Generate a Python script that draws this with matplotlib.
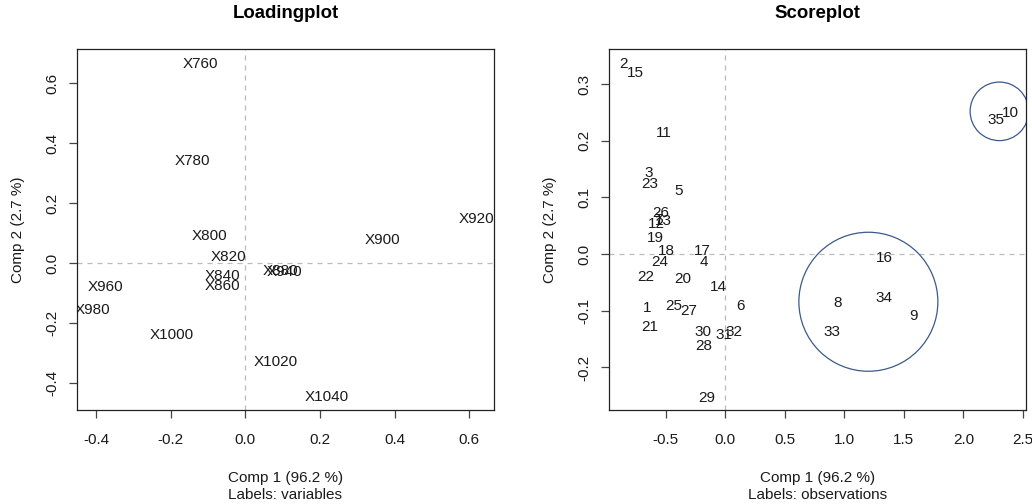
import numpy as np
import matplotlib
matplotlib.use("Agg")
import matplotlib.pyplot as plt
from matplotlib.patches import Ellipse

plt.rcParams["font.family"] = ["Liberation Sans", "DejaVu Sans"]
plt.rcParams["axes.unicode_minus"] = False

# loadings of the first two components
var_names = ["X760", "X780", "X800", "X820", "X840", "X860", "X880", "X900",
             "X920", "X940", "X960", "X980", "X1000", "X1020", "X1040"]
load_c1 = [-0.121, -0.141, -0.095, -0.045, -0.062, -0.062, 0.093, 0.368,
           0.620, 0.106, -0.376, -0.410, -0.197, 0.082, 0.218]
load_c2 = [0.663, 0.341, 0.091, 0.020, -0.042, -0.076, -0.025, 0.078,
           0.147, -0.028, -0.079, -0.156, -0.239, -0.328, -0.447]

# scores of the observations
obs_ids = [str(i) for i in range(1, 36)]
score_c1 = [-0.660, -0.857, -0.647, -0.179, -0.395, 0.124, -0.565, 0.945,
            1.580, 2.398, -0.513, -0.580, -0.521, -0.056, -0.753, 1.334,
            -0.193, -0.492, -0.585, -0.358, -0.639, -0.672, -0.633, -0.555,
            -0.431, -0.543, -0.311, -0.185, -0.156, -0.190, -0.011, 0.071,
            0.894, 1.336, 2.275]
score_c2 = [-0.095, 0.336, 0.144, -0.014, 0.112, -0.091, 0.060, -0.087,
            -0.110, 0.249, 0.213, 0.053, 0.058, -0.058, 0.319, -0.007,
            0.006, 0.005, 0.028, -0.043, -0.128, -0.041, 0.124, -0.014,
            -0.091, 0.072, -0.101, -0.162, -0.253, -0.137, -0.142, -0.138,
            -0.138, -0.077, 0.236]

# highlighted groups: centre (comp1, comp2) and radius in comp1 units
circ_x = [1.202, 2.303]
circ_y = [-0.084, 0.252]
circ_r = [0.584, 0.246]

W, H = 1032, 504
fig = plt.figure(figsize=(W / 100, H / 100), dpi=100)
ax1 = fig.add_axes([77 / W, 1 - 410 / H, 417 / W, 361 / H])
ax2 = fig.add_axes([609.3 / W, 1 - 410 / H, 416.4 / W, 361 / H])

fs = 11
dark = "#1a1a1a"


def frame(ax, xlim, ylim, xt, yt, title, sub):
    ax.set_xlim(*xlim)
    ax.set_ylim(*ylim)
    ax.set_xticks(xt)
    ax.set_yticks(yt)
    ax.set_xticklabels(["%.1f" % v for v in xt], fontsize=fs, color=dark)
    ax.set_yticklabels(["%.1f" % v for v in yt], fontsize=fs, color=dark,
                       rotation=90, va="center")
    ax.tick_params(axis="x", direction="out", length=6, width=0.9, pad=10.5, colors="#444444", labelcolor=dark)
    ax.tick_params(axis="y", direction="out", length=6, width=0.9, pad=7, colors="#444444", labelcolor=dark)
    for s in ax.spines.values():
        s.set_linewidth(0.9)
        s.set_color("#222222")
    ax.axhline(0, color="#bbbbbb", lw=0.9, ls=(0, (4, 4)), zorder=0)
    ax.axvline(0, color="#bbbbbb", lw=0.9, ls=(0, (4, 4)), zorder=0)
    ax.text(0.5, (410 - 18.3) / 361, title, transform=ax.transAxes, ha="center",
            va="baseline", fontsize=13.4, fontweight="bold", color="black")
    ax.text(0.5, (410 - 482) / 361, "Comp 1 (96.2 %)", transform=ax.transAxes,
            ha="center", va="baseline", fontsize=fs, color=dark)
    ax.text(0.5, (410 - 499) / 361, sub, transform=ax.transAxes,
            ha="center", va="baseline", fontsize=fs, color=dark)
    ax.set_ylabel("Comp 2 (2.7 %)", fontsize=fs, color=dark)
    ax.yaxis.set_label_coords(-52.5 / 417, 0.5)


frame(ax1, (-0.451, 0.666), (-0.489, 0.714), np.arange(-0.4, 0.61, 0.2),
      np.arange(-0.4, 0.61, 0.2), "Loadingplot", "Labels: variables")
frame(ax2, (-0.975, 2.524), (-0.275, 0.362), np.arange(-0.5, 2.51, 0.5),
      np.arange(-0.2, 0.31, 0.1), "Scoreplot", "Labels: observations")

for name, x, y in zip(var_names, load_c1, load_c2):
    ax1.text(x, y, name, ha="center", va="center", fontsize=fs, color=dark, clip_on=True)

for name, x, y in zip(obs_ids, score_c1, score_c2):
    ax2.text(x, y, name, ha="center", va="center", fontsize=fs, color=dark, clip_on=True)

# circles are round on screen, so scale the comp2 radius by the axes aspect
bb = ax2.get_window_extent()
xr = ax2.get_xlim()[1] - ax2.get_xlim()[0]
yr = ax2.get_ylim()[1] - ax2.get_ylim()[0]
ratio = (yr / bb.height) / (xr / bb.width)
for cx, cy, r in zip(circ_x, circ_y, circ_r):
    ax2.add_patch(Ellipse((cx, cy), 2 * r, 2 * r * ratio, fill=False,
                          edgecolor="#3b5a8a", lw=0.9, clip_on=True))

fig.savefig("out.png", dpi=100)
